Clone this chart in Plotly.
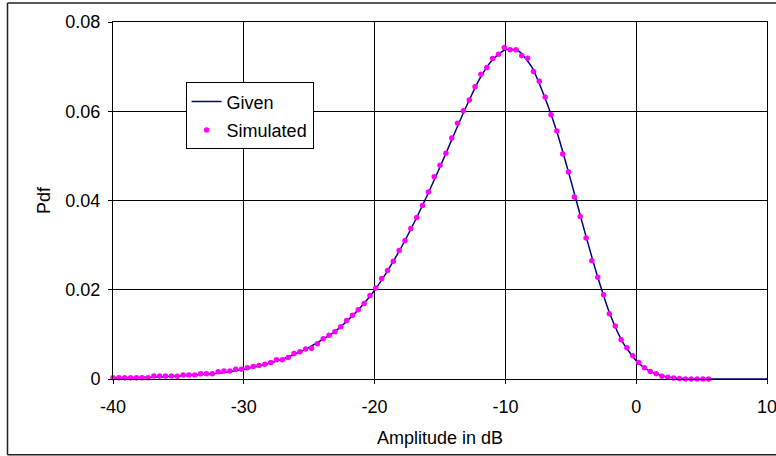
import plotly.graph_objects as go

# ---- data ----
sim_x = [-40.00, -39.55, -39.11, -38.66, -38.21, -37.77, -37.32, -36.87, -36.43, -35.98,
         -35.53, -35.09, -34.64, -34.20, -33.75, -33.30, -32.86, -32.41, -31.96, -31.52,
         -31.07, -30.62, -30.18, -29.73, -29.28, -28.84, -28.39, -27.94, -27.50, -27.05,
         -26.60, -26.16, -25.71, -25.27, -24.82, -24.37, -23.93, -23.48, -23.03, -22.59,
         -22.14, -21.69, -21.25, -20.80, -20.35, -19.91, -19.46, -19.01, -18.57, -18.12,
         -17.68, -17.23, -16.78, -16.34, -15.89, -15.44, -15.00, -14.55, -14.10, -13.66,
         -13.21, -12.76, -12.32, -11.87, -11.42, -10.98, -10.53, -10.08, -9.64, -9.19,
         -8.75, -8.30, -7.85, -7.41, -6.96, -6.51, -6.07, -5.62, -5.17, -4.73,
         -4.28, -3.83, -3.39, -2.94, -2.49, -2.05, -1.60, -1.15, -0.71, -0.26,
         0.19, 0.63, 1.08, 1.53, 1.97, 2.42, 2.87, 3.31, 3.76, 4.20,
         4.65, 5.10, 5.54]
sim_y = [0.0003, 0.0003, 0.0003, 0.0003, 0.0003, 0.0003, 0.0003, 0.0007, 0.0007, 0.0007,
         0.0007, 0.0006, 0.0009, 0.0009, 0.0009, 0.0012, 0.0012, 0.0012, 0.0016, 0.0018,
         0.0018, 0.0022, 0.0022, 0.0025, 0.0028, 0.0030, 0.0033, 0.0037, 0.0043, 0.0043,
         0.0048, 0.0057, 0.0061, 0.0067, 0.0069, 0.0079, 0.0090, 0.0098, 0.0106, 0.0117,
         0.0131, 0.0143, 0.0155, 0.0169, 0.0187, 0.0204, 0.0225, 0.0243, 0.0264, 0.0288,
         0.0310, 0.0337, 0.0362, 0.0389, 0.0419, 0.0453, 0.0479, 0.0506, 0.0540, 0.0573,
         0.0601, 0.0625, 0.0655, 0.0683, 0.0698, 0.0718, 0.0728, 0.0743, 0.0738, 0.0738,
         0.0725, 0.0719, 0.0689, 0.0667, 0.0632, 0.0592, 0.0556, 0.0504, 0.0464, 0.0408,
         0.0364, 0.0316, 0.0265, 0.0228, 0.0189, 0.0146, 0.0119, 0.0088, 0.0070, 0.0052,
         0.0037, 0.0025, 0.0017, 0.0012, 0.0006, 0.0004, 0.0002, 0.0001, 0.0, 0.0,
         0.0, 0.0, 0.0]

given_x = [-40, -39, -38, -37, -36, -35, -34, -33, -32, -31, -30, -29, -28, -27, -26,
           -25, -24, -23, -22, -21, -20, -19, -18, -17, -16, -15, -14, -13, -12, -11,
           -10, -9, -8, -7, -6, -5, -4, -3, -2, -1, 0, 1, 2, 3, 4, 5, 6, 7, 8, 9, 10]
given_y = [0.0002, 0.00026, 0.00033, 0.00042, 0.00053, 0.00066, 0.00083, 0.00104, 0.0013, 0.0017,
           0.0022, 0.0028, 0.0036, 0.0045, 0.0057, 0.0071, 0.0088, 0.0107, 0.0133, 0.0163,
           0.0199, 0.0243, 0.0293, 0.0349, 0.0410, 0.0475, 0.0543, 0.0610, 0.0671, 0.0715,
           0.0738, 0.0735, 0.0700, 0.0632, 0.0548, 0.0445, 0.0337, 0.0234, 0.0145, 0.0081,
           0.0041, 0.0018, 0.0007, 0.00024, 0.00007, 0.00002, 0.0, 0.0, 0.0, 0.0, 0.0]

x_ticks = [-40, -30, -20, -10, 0, 10]
x_tick_labels = ["-40", "-30", "-20", "-10", "0", "10"]
y_ticks = [0, 0.02, 0.04, 0.06, 0.08]
y_tick_labels = ["0", "0.02", "0.04", "0.06", "0.08"]

FONT = "Liberation Sans, Arial, sans-serif"

fig = go.Figure()
fig.add_trace(go.Scatter(
    x=given_x, y=given_y, mode="lines", name="Given",
    line=dict(color="#000080", width=1.5, shape="spline", smoothing=0.6),
    cliponaxis=False, legendgroup="g1"))
fig.add_trace(go.Scatter(
    x=sim_x, y=sim_y, mode="markers", name="Simulated",
    marker=dict(color="#FF00FF", size=5.5, symbol="circle"),
    cliponaxis=False, legendgroup="g2"))

axis_common = dict(
    showgrid=True, gridcolor="#000000", gridwidth=1,
    showline=True, linecolor="#000000", linewidth=1, mirror=True,
    ticks="outside", ticklen=4, tickcolor="#000000",
    zeroline=False, tickfont=dict(family=FONT, size=18, color="black"),
    ticklabeloverflow="allow",
)

fig.update_xaxes(range=[-40, 10], tickvals=x_ticks, ticktext=x_tick_labels,
                 ticklabelstandoff=7,
                 title=dict(text="Amplitude in dB", font=dict(family=FONT, size=18, color="black"),
                            standoff=15),
                 **axis_common)
fig.update_yaxes(range=[0, 0.08], tickvals=y_ticks, ticktext=y_tick_labels,
                 ticklabelstandoff=4,
                 title=dict(text="Pdf", font=dict(family=FONT, size=18, color="black"),
                            standoff=10),
                 **axis_common)

# outer chart border (left, top, bottom; the right edge lies outside the window)
bx0, bx1, by0, by1 = -0.1613, 1.0138, -0.212, 1.0532
border = dict(color="#222222", width=1.5)
fig.update_layout(
    width=776, height=456,
    margin=dict(l=113, r=9, t=22, b=77, autoexpand=False),
    paper_bgcolor="white", plot_bgcolor="white",
    font=dict(family=FONT, size=18, color="black"),
    showlegend=True,
    legend=dict(x=0.111, y=0.831, xanchor="left", yanchor="top",
                bgcolor="white", bordercolor="black", borderwidth=1,
                font=dict(family=FONT, size=18, color="black"),
                tracegroupgap=2),
    shapes=[
        dict(type="line", xref="paper", yref="paper", x0=bx0, x1=bx0, y0=by0, y1=by1, line=border),
        dict(type="line", xref="paper", yref="paper", x0=bx0, x1=bx1, y0=by1, y1=by1, line=border),
        dict(type="line", xref="paper", yref="paper", x0=bx0, x1=bx1, y0=by0, y1=by0, line=border),
    ],
)

fig.write_html("out.html")
